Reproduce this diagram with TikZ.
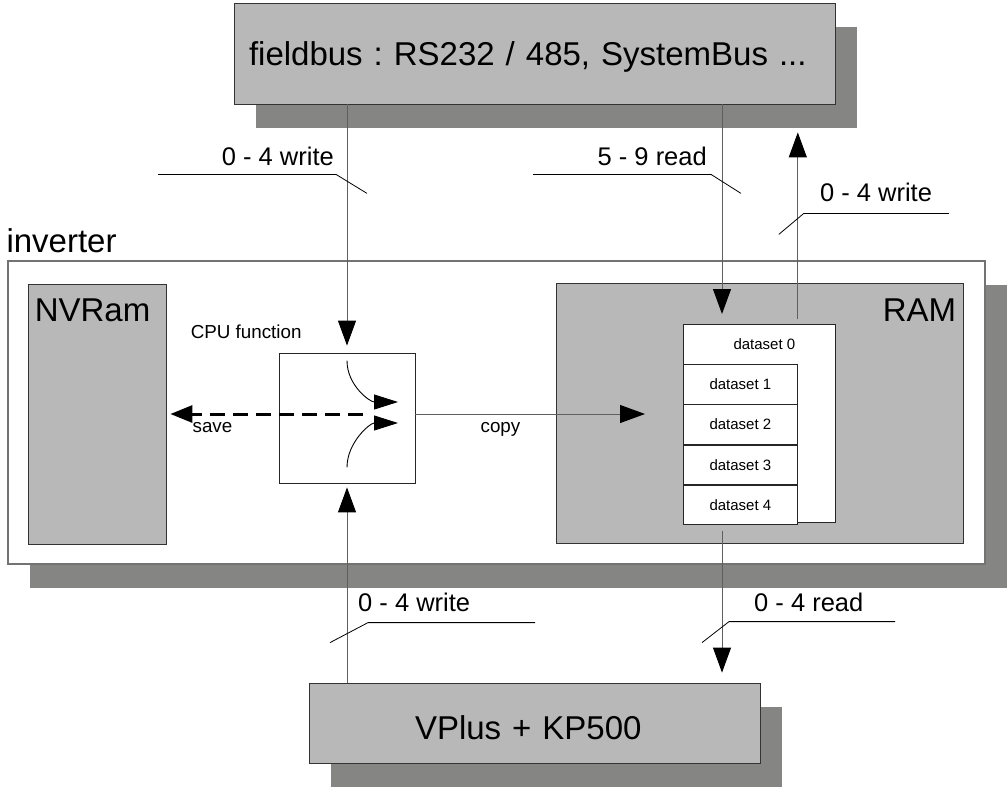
\documentclass[tikz,border=0pt]{standalone}
\usepackage{fontspec}
\setmainfont{Liberation Sans}
\frenchspacing
\usetikzlibrary{arrows.meta,calc,positioning,shadows}
\definecolor{panelColor}{RGB}{184,184,184}
\definecolor{shadowColor}{RGB}{133,133,132}
\definecolor{lineColor}{RGB}{95,95,95}
\tikzset{bigtext/.style={font=\fontsize{33}{40}\selectfont}}
\tikzset{labeltext/.style={font=\fontsize{25.5}{30}\selectfont}}
\tikzset{smalltext/.style={font=\fontsize{18.8}{22}\selectfont}}
\tikzset{dstext/.style={font=\fontsize{15}{18}\selectfont}}
\tikzset{panel/.style={draw=black!80, fill=panelColor, line width=0.8pt, drop shadow={shadow xshift=22pt, shadow yshift=-24pt, fill=shadowColor, opacity=1}}}
\tikzset{memory/.style={draw=black!80, fill=panelColor, line width=0.8pt}}
\tikzset{unit/.style={draw=black!85, fill=white, line width=0.8pt}}
\tikzset{dsrow/.style={unit, dstext, minimum width=114pt, minimum height=39.5pt}}
\tikzstyle{arrow} = [draw=lineColor, line width=1pt, -{Triangle[width=18pt, length=25pt, color=black]}]
\tikzstyle{turn} = [draw=black, line width=0.9pt, -{Triangle[width=15pt, length=24pt]}]
\tikzstyle{dasharrow} = [draw=black, line width=3pt, dash pattern=on 15pt off 8pt, -{Triangle[width=17pt, length=22pt]}]
\tikzstyle{leader} = [draw=black, line width=0.8pt]

\begin{document}
\begin{tikzpicture}[x=1pt, y=-1pt, inner sep=0pt]
	\useasboundingbox (0,0) rectangle (1008,787);
	% Nodes
	\node (fieldbus) [panel, bigtext, minimum width=601pt, minimum height=101pt, text width=571pt, align=left, text depth=0pt] at (534.5,53.5) {fieldbus : RS232 / 485, SystemBus ...};

	\node (inverter) [draw=black!55, fill=white, line width=1.3pt, minimum width=977pt, minimum height=303pt,
		drop shadow={shadow xshift=22pt, shadow yshift=-24pt, fill=shadowColor, opacity=1}] at (496.5,412.5) {};
	\node (invlabel) [bigtext, anchor=base west] at ($(inverter.north west)+(-1,-8)$) {inverter};

	\node (nvram) [memory, minimum width=138pt, minimum height=260pt] at (97,414) {};
	\node (nvlabel) [bigtext, anchor=base west] at ($(nvram.north west)+(7,38)$) {NVRam};

	\node (ram) [memory, minimum width=407pt, minimum height=260pt] at (759.5,413) {};
	\node (ramlabel) [bigtext, anchor=base east] at ($(ram.north east)+(-7,39)$) {RAM};

	\node (cpu) [unit, minimum width=136pt, minimum height=130pt] at (347,418) {};
	\node (cpulabel) [smalltext, anchor=base west] at ($(cpu.north west)+(-88,-14)$) {CPU function};
	\coordinate (mid) at ($(cpu.center)+(0,-4)$);

	\node (dsbox) [unit, minimum width=152pt, minimum height=198pt, anchor=north west] at (683,324) {};
	\node (ds0) [dstext, anchor=base] at ($(dsbox.north)+(5,25)$) {dataset 0};
	\node (ds1) [dsrow, anchor=north west] at ($(dsbox.north west)+(0,40)$) {dataset 1};
	\node (ds2) [dsrow, below=0pt of ds1] {dataset 2};
	\node (ds3) [dsrow, below=0pt of ds2] {dataset 3};
	\node (ds4) [dsrow, below=0pt of ds3] {dataset 4};
	\coordinate (rd) at ($(dsbox.north west)+(39,0)$);

	\node (vplus) [panel, bigtext, minimum width=451pt, minimum height=80pt, text width=239pt, align=left, text height=32pt, text depth=0pt] at (534.5,723) {VPlus + KP500};

	\node (save) [smalltext, anchor=base west] at ($(nvram.east |- mid)+(26,18)$) {save};
	\node (copy) [smalltext, anchor=base west] at ($(cpu.east |- mid)+(65,18)$) {copy};
	\coordinate (copyend) at ($(dsbox.west |- mid)+(-38,0)$);

	% Connectors
	\draw [arrow] (fieldbus.south -| cpu.north) -- ($(cpu.north)+(0,-7)$);
	\draw [arrow] (vplus.north -| cpu.south) -- ($(cpu.south)+(0,4)$);
	\draw [arrow] (cpu.east |- mid) -- (copyend);
	\draw [dasharrow] ($(mid)+(16,0)$) -- ($(nvram.east |- mid)+(4,0)$);
	\draw [turn] ($(cpu.north)+(0,8)$) .. controls +(0,25) and +(-28,0) .. ($(mid)+(51,-12)$);
	\draw [turn] ($(cpu.south)+(0,-16)$) .. controls +(0,-25) and +(-28,0) .. ($(mid)+(51,9)$);

	\draw [arrow] (fieldbus.south -| rd) -- ($(rd)+(0,-10)$);
	\draw [arrow] ($(dsbox.north -| ds1.east)+(0,-5)$) -- ($(fieldbus.south -| ds1.east)+(0,28)$);
	\draw [arrow] ($(dsbox.south -| rd)+(0,8)$) -- ($(vplus.north -| rd)+(0,-10)$);

	% Labels with leader lines
	\node (w1) [labeltext, anchor=base east] at ($(fieldbus.south -| cpu.north)+(-13,61)$) {0 - 4 write};
	\draw [leader] ($(w1.base east)+(-176,9)$) -- ($(w1.base east)+(2,9)$) -- ++(31,19);

	\node (r1) [labeltext, anchor=base east] at ($(fieldbus.south -| rd)+(-15,61)$) {5 - 9 read};
	\draw [leader] ($(r1.base east)+(-174,9)$) -- ($(r1.base east)+(4,9)$) -- ++(30,19);

	\node (w2) [labeltext, anchor=base west] at ($(fieldbus.south -| ds1.east)+(22,97)$) {0 - 4 write};
	\draw [leader] ($(w2.base west)+(129,12)$) -- ($(w2.base west)+(-16,12)$) -- ++(-25,21);

	\node (w3) [labeltext, anchor=base west] at ($(vplus.north -| cpu.south)+(11,-71)$) {0 - 4 write};
	\draw [leader] ($(w3.base west)+(177,11)$) -- ($(w3.base west)+(10,11)$) -- ++(-38,20);

	\node (r2) [labeltext, anchor=base west] at ($(vplus.north -| rd)+(32,-71)$) {0 - 4 read};
	\draw [leader] ($(r2.base west)+(141,10)$) -- ($(r2.base west)+(-25,10)$) -- ++(-27,21);
\end{tikzpicture}
\end{document}
